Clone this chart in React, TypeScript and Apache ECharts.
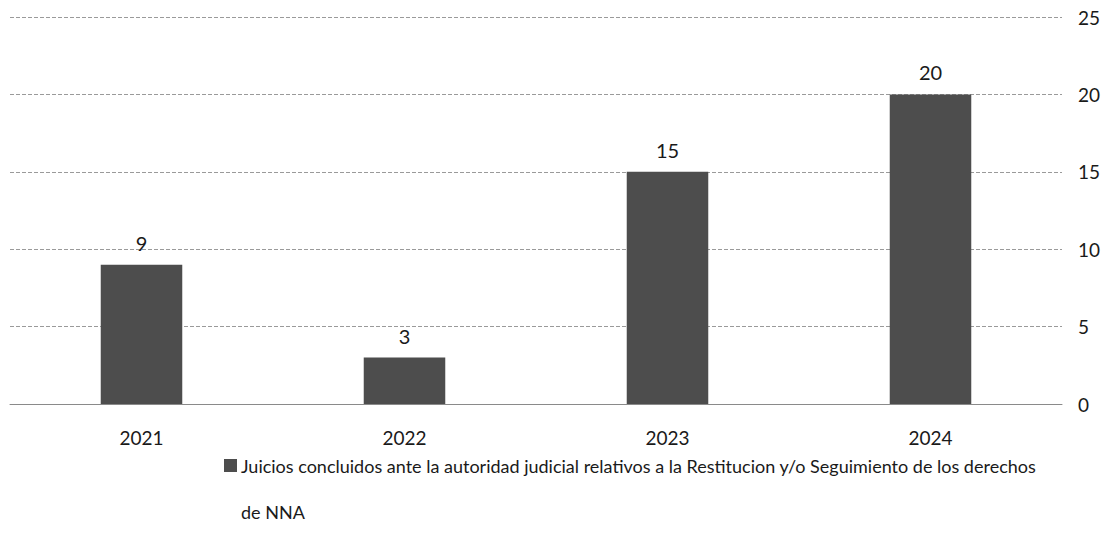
import React, { useEffect, useRef } from "react";
import * as echarts from "echarts";

const categories = ["2021", "2022", "2023", "2024"];
const values = [9, 3, 15, 20];
const seriesName =
  "Juicios concluidos ante la autoridad judicial relativos a la Restitucion y/o Seguimiento de los derechos de NNA";
const legendLines = [
  "Juicios concluidos ante la autoridad judicial relativos a la Restitucion y/o Seguimiento de los derechos",
  "de NNA",
];
const yTicks = { min: 0, max: 25, interval: 5 };

export default function App() {
  const ref = useRef<HTMLDivElement>(null);
  useEffect(() => {
    if (!ref.current) return;
    const chart = echarts.init(ref.current, null, { renderer: "svg" });
    const font = "Lato, 'Open Sans', sans-serif";
    const barColor = "#4d4d4d";
    chart.setOption({
      animation: false,
      backgroundColor: "#ffffff",
      textStyle: { fontFamily: font },
      grid: { left: 10, right: 43, top: 17, bottom: 131 },
      xAxis: {
        type: "category",
        data: categories,
        axisLine: { show: true, lineStyle: { color: "#8a8a8a", width: 1 } },
        axisTick: { show: false },
        axisLabel: { color: "#1a1a1a", fontSize: 19, margin: 24, fontFamily: font },
      },
      yAxis: {
        type: "value",
        position: "right",
        min: yTicks.min,
        max: yTicks.max,
        interval: yTicks.interval,
        axisLine: { show: false },
        axisTick: { show: false },
        axisLabel: { color: "#1a1a1a", fontSize: 19, margin: 16, fontFamily: font },
        splitLine: { lineStyle: { color: "#9a9a9a", width: 1, type: [4, 2] } },
      },
      legend: { show: false },
      graphic: [
        {
          type: "rect",
          left: 224,
          top: 459,
          shape: { width: 13, height: 13 },
          style: { fill: barColor },
        },
        {
          type: "text",
          left: 241,
          top: 443,
          style: {
            text: legendLines.join("\n"),
            fill: "#1a1a1a",
            font: `18px ${font}`,
            lineHeight: 46,
            verticalAlign: "top",
          },
        },
      ],
      series: [
        {
          name: seriesName,
          type: "bar",
          data: values,
          barWidth: "31%",
          itemStyle: { color: barColor },
          label: {
            show: true,
            position: "top",
            distance: 12,
            color: "#1a1a1a",
            fontSize: 20,
            fontFamily: font,
          },
        },
      ],
    });
    return () => chart.dispose();
  }, []);
  return (
    <div
      ref={ref}
      style={{ position: "fixed", left: 0, top: 0, width: 1105, height: 535 }}
    />
  );
}
